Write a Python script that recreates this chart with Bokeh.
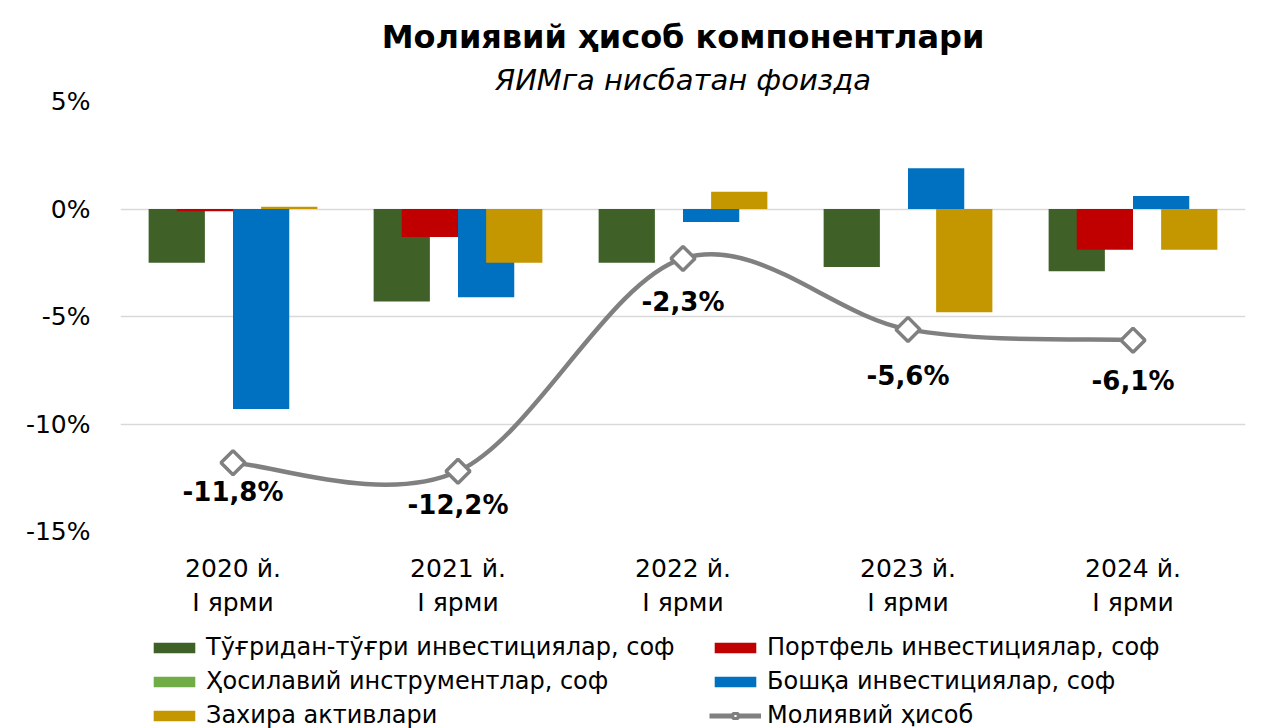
import numpy as np
from bokeh.plotting import figure
from bokeh.layouts import column
from bokeh.models import (ColumnDataSource, Legend, LegendItem, Title, FixedTicker,
                          Range1d)
from bokeh.transform import dodge
from bokeh.embed import file_html
from bokeh.resources import INLINE
from bokeh.core.properties import value

# ---------------- data ----------------
categories = ["2020 й.\nI ярми", "2021 й.\nI ярми", "2022 й.\nI ярми",
              "2023 й.\nI ярми", "2024 й.\nI ярми"]
fdi = [-2.5, -4.3, -2.5, -2.7, -2.9]            # Тўғридан-тўғри инвестициялар, соф
portfolio = [-0.1, -1.3, 0.0, 0.0, -1.9]        # Портфель инвестициялар, соф
derivatives = [0.0, 0.0, 0.0, 0.0, 0.0]         # Ҳосилавий инструментлар, соф
other = [-9.3, -4.1, -0.6, 1.9, 0.6]            # Бошқа инвестициялар, соф
reserves = [0.1, -2.5, 0.8, -4.8, -1.9]         # Захира активлари
fin_account = [-11.8, -12.2, -2.3, -5.6, -6.1]  # Молиявий ҳисоб
fin_labels = ["-11,8%", "-12,2%", "-2,3%", "-5,6%", "-6,1%"]

series_names = ["Тўғридан-тўғри инвестициялар, соф", "Портфель инвестициялар, соф",
                "Ҳосилавий инструментлар, соф", "Бошқа инвестициялар, соф",
                "Захира активлари"]
line_name = "Молиявий ҳисоб"
y_ticks = [-15, -10, -5, 0, 5]
y_tick_labels = ["-15%", "-10%", "-5%", "0%", "5%"]

# ---------------- styles ----------------
colors = ["#3F6128", "#C00000", "#70AD47", "#0070C0", "#C49600"]
offsets = [-0.25, -0.125, 0.0, 0.125, 0.25]
label_dy = [29, 34, 44, 47, 41]
FONT = "DejaVu Sans"
GRAY = "#808080"

xs = list(range(len(categories)))
src = ColumnDataSource(dict(x=xs, fdi=fdi, portfolio=portfolio, derivatives=derivatives,
                            other=other, reserves=reserves, fin=fin_account,
                            lab=fin_labels, dy=label_dy))
keys = ["fdi", "portfolio", "derivatives", "other", "reserves"]

# ---------------- main chart ----------------
p = figure(width=1267, height=620, output_backend="svg", toolbar_location=None,
           x_range=Range1d(-0.5, 4.5), y_range=Range1d(-15, 5), title=None,
           min_border_left=120, min_border_right=22, min_border_top=101,
           min_border_bottom=83)
p.outline_line_color = None
p.background_fill_color = "white"
p.border_fill_color = "white"

p.add_layout(Title(text="ЯИМга нисбатан фоизда", text_font=FONT, text_font_size="29px",
                   text_font_style="italic", align="center", text_color="#000000",
                   standoff=9, offset=6), "above")
p.add_layout(Title(text="Молиявий ҳисоб компонентлари", text_font=FONT,
                   text_font_size="32px", text_font_style="bold", align="center",
                   text_color="#000000", standoff=2, offset=6), "above")

for k, c, off in zip(keys, colors, offsets):
    p.vbar(x=dodge("x", off, range=p.x_range), top=k, bottom=0, width=0.25,
           source=src, fill_color=c, line_color=None)

# smoothed line (cubic Bezier segments through the data points)
n = len(xs)
x0, y0, x1, y1, cx0, cy0, cx1, cy1 = [], [], [], [], [], [], [], []
for i in range(n - 1):
    ip = max(i - 1, 0)
    inx = min(i + 2, n - 1)
    x0.append(xs[i]); y0.append(fin_account[i])
    x1.append(xs[i + 1]); y1.append(fin_account[i + 1])
    cx0.append(xs[i] + (xs[i + 1] - xs[ip]) / 6.0)
    cy0.append(fin_account[i] + (fin_account[i + 1] - fin_account[ip]) / 6.0)
    cx1.append(xs[i + 1] - (xs[inx] - xs[i]) / 6.0)
    cy1.append(fin_account[i + 1] - (fin_account[inx] - fin_account[i]) / 6.0)
p.bezier(x0=x0, y0=y0, x1=x1, y1=y1, cx0=cx0, cy0=cy0, cx1=cx1, cy1=cy1,
         line_color=GRAY, line_width=4.5)
p.scatter(x="x", y="fin", source=src, marker="square", angle=np.pi / 4, size=17,
          fill_color="white", line_color=GRAY, line_width=3.5)

p.text(x="x", y="fin", text="lab", source=src, y_offset="dy", text_align="center",
       text_baseline="middle", text_font=value(FONT), text_font_size="26px",
       text_font_style="bold", text_color="#000000")

p.xaxis.ticker = FixedTicker(ticks=xs)
p.xaxis.major_label_overrides = {i: c for i, c in enumerate(categories)}
p.yaxis.ticker = FixedTicker(ticks=y_ticks)
p.yaxis.major_label_overrides = {t: l for t, l in zip(y_ticks, y_tick_labels)}
for ax in (p.xaxis, p.yaxis):
    ax.axis_line_color = None
    ax.major_tick_line_color = None
    ax.minor_tick_line_color = None
    ax.major_label_text_font = FONT
    ax.major_label_text_font_size = "25px"
    ax.major_label_text_color = "#000000"
p.xaxis.major_label_standoff = 16
p.yaxis.major_label_standoff = 24
p.xgrid.grid_line_color = None
p.ygrid.grid_line_color = "#D9D9D9"
p.ygrid.grid_line_width = 1.5

# ---------------- legend strip ----------------
q = figure(width=1267, height=108, output_backend="svg", toolbar_location=None,
           x_range=Range1d(-0.5, 4.5), y_range=Range1d(20, 21),
           x_axis_location=None, y_axis_location=None,
           min_border_left=0, min_border_right=0, min_border_top=0, min_border_bottom=0)
q.outline_line_color = None
q.grid.visible = False
q.background_fill_color = "white"
q.border_fill_color = "white"

# legend keys share the chart's data; the strip's range keeps the marks themselves out of view
leg_r = []
for k, c in zip(keys, colors):
    leg_r.append(q.vbar(x="x", top=k, bottom=0, width=0.25, source=src,
                        fill_color=c, line_color=None))
ln = q.line(x="x", y="fin", source=src, line_color=GRAY, line_width=5)
sc = q.scatter(x="x", y="fin", source=src, marker="square", angle=np.pi / 4, size=12,
               fill_color="white", line_color=GRAY, line_width=3)

items = [
    LegendItem(label=series_names[0], renderers=[leg_r[0]]),
    LegendItem(label=series_names[2], renderers=[leg_r[2]]),
    LegendItem(label=series_names[4], renderers=[leg_r[4]]),
    LegendItem(label=series_names[1], renderers=[leg_r[1]]),
    LegendItem(label=series_names[3], renderers=[leg_r[3]]),
    LegendItem(label=line_name, renderers=[ln, sc]),
]
legend = Legend(items=items, orientation="vertical", nrows=3, location=(28, -1),
                label_text_font=FONT, label_text_font_size="24px",
                label_text_color="#000000", glyph_width=52, glyph_height=13,
                label_height=27, label_width=497, label_standoff=6, spacing=6,
                padding=0, margin=0, border_line_color=None,
                background_fill_alpha=0)
q.add_layout(legend, "center")

layout = column(p, q, spacing=0)
open("out.html", "w").write(file_html(layout, INLINE))
